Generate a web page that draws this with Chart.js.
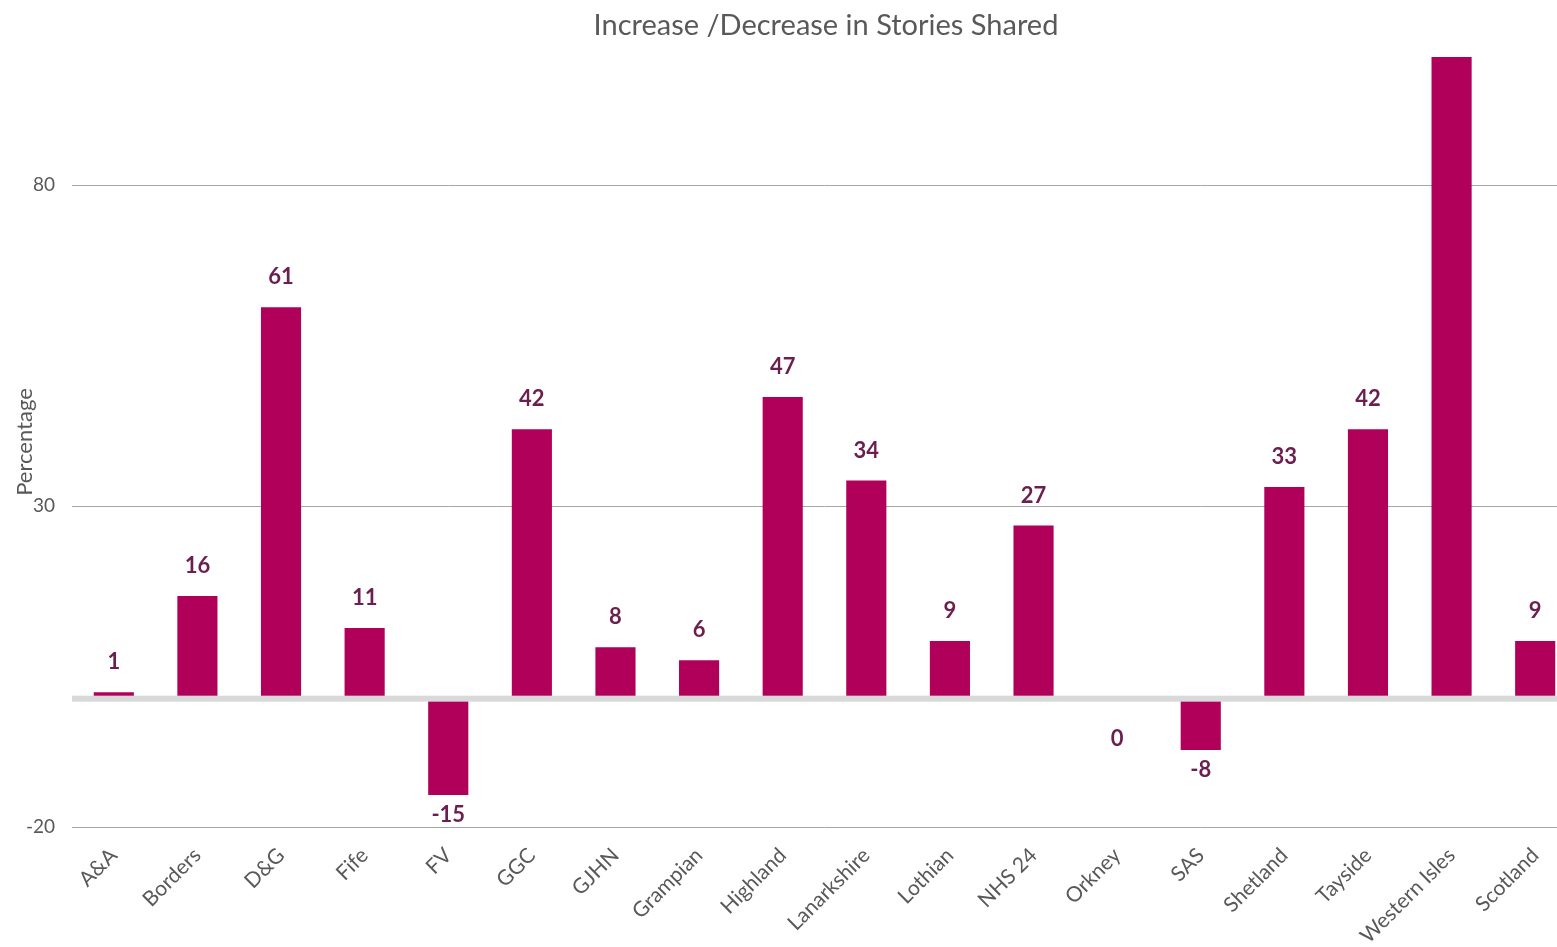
<!DOCTYPE html>
<html>
<head>
<meta charset="utf-8">
<script src="https://cdn.jsdelivr.net/npm/chart.js@4"></script>
<style>
  html, body { margin: 0; padding: 0; background: #fff; overflow: hidden; }
  #wrap { width: 1577px; height: 947px; }
</style>
</head>
<body>
<div id="wrap"><canvas id="myChart"></canvas></div>
<script>
var categories = ['A&A', 'Borders', 'D&G', 'Fife', 'FV', 'GGC', 'GJHN', 'Grampian', 'Highland',
    'Lanarkshire', 'Lothian', 'NHS 24', 'Orkney', 'SAS', 'Shetland', 'Tayside', 'Western Isles', 'Scotland'];
var values = [1, 16, 61, 11, -15, 42, 8, 6, 47, 34, 9, 27, 0, -8, 33, 42, 120, 9];
var yTicks = [-20, 30, 80];
var yMin = -20, yMax = 100;
var chartTitle = 'Increase /Decrease in Stories Shared';

var fontFamily = "Lato, 'Open Sans', sans-serif";

// title, value labels + thick zero line
const barExtras = {
    id: 'barExtras',
    afterDatasetsDraw(chart) {
        const c = chart.ctx;
        const y = chart.scales.y;
        const zero = y.getPixelForValue(0);

        c.save();
        c.fillStyle = '#d9d9d9';
        c.fillRect(chart.chartArea.left, zero - 3, chart.chartArea.right - chart.chartArea.left, 6);

        c.font = "bold 22px " + fontFamily;
        c.fillStyle = '#6b1f4e';
        c.textAlign = 'center';
        c.textBaseline = 'middle';
        chart.getDatasetMeta(0).data.forEach(function (bar, i) {
            const v = values[i];
            if (v > yMax) return;
            if (v > 0) c.fillText(String(v), bar.x, bar.y - 30);
            else c.fillText(String(v), bar.x, Math.max(bar.y, zero + 20) + 20);
        });

        c.font = "29px " + fontFamily;
        c.fillStyle = '#595959';
        c.fillText(chartTitle, 826, 26);
        c.restore();
    }
};

var ctx = document.getElementById('myChart');

const myChart = new Chart(ctx, {
    type: 'bar',
    data: {
        labels: categories,
        datasets: [{
            label: 'Percentage',
            data: values,
            backgroundColor: '#b0005a',
            barPercentage: 0.48,
            categoryPercentage: 1
        }]
    },
    options: {
        responsive: true,
        maintainAspectRatio: false,
        animation: false,
        layout: { padding: { left: 0, right: 0, top: 57, bottom: 0 } },
        plugins: {
            legend: { display: false },
            tooltip: { enabled: false },
            title: { display: false }
        },
        scales: {
            x: {
                grid: { display: false },
                border: { display: false },
                ticks: {
                    color: '#595959',
                    font: { family: fontFamily, size: 21 },
                    minRotation: 45,
                    maxRotation: 45,
                    padding: 8
                },
                afterFit: function (scale) {
                    scale.height = 120;
                }
            },
            y: {
                min: yMin,
                max: yMax,
                border: { display: false },
                grid: { color: '#a6a6a6', lineWidth: 1, drawTicks: false },
                ticks: {
                    color: '#595959',
                    font: { family: fontFamily, size: 19 },
                    padding: 17
                },
                afterBuildTicks: function (scale) {
                    scale.ticks = yTicks.map(function (v) { return { value: v }; });
                },
                title: {
                    display: true,
                    text: 'Percentage',
                    color: '#595959',
                    font: { family: fontFamily, size: 22 },
                    padding: { top: 12, bottom: 0 }
                },
                afterFit: function (scale) {
                    scale.width = 72;
                }
            }
        }
    },
    plugins: [barExtras]
});
</script>
</body>
</html>
